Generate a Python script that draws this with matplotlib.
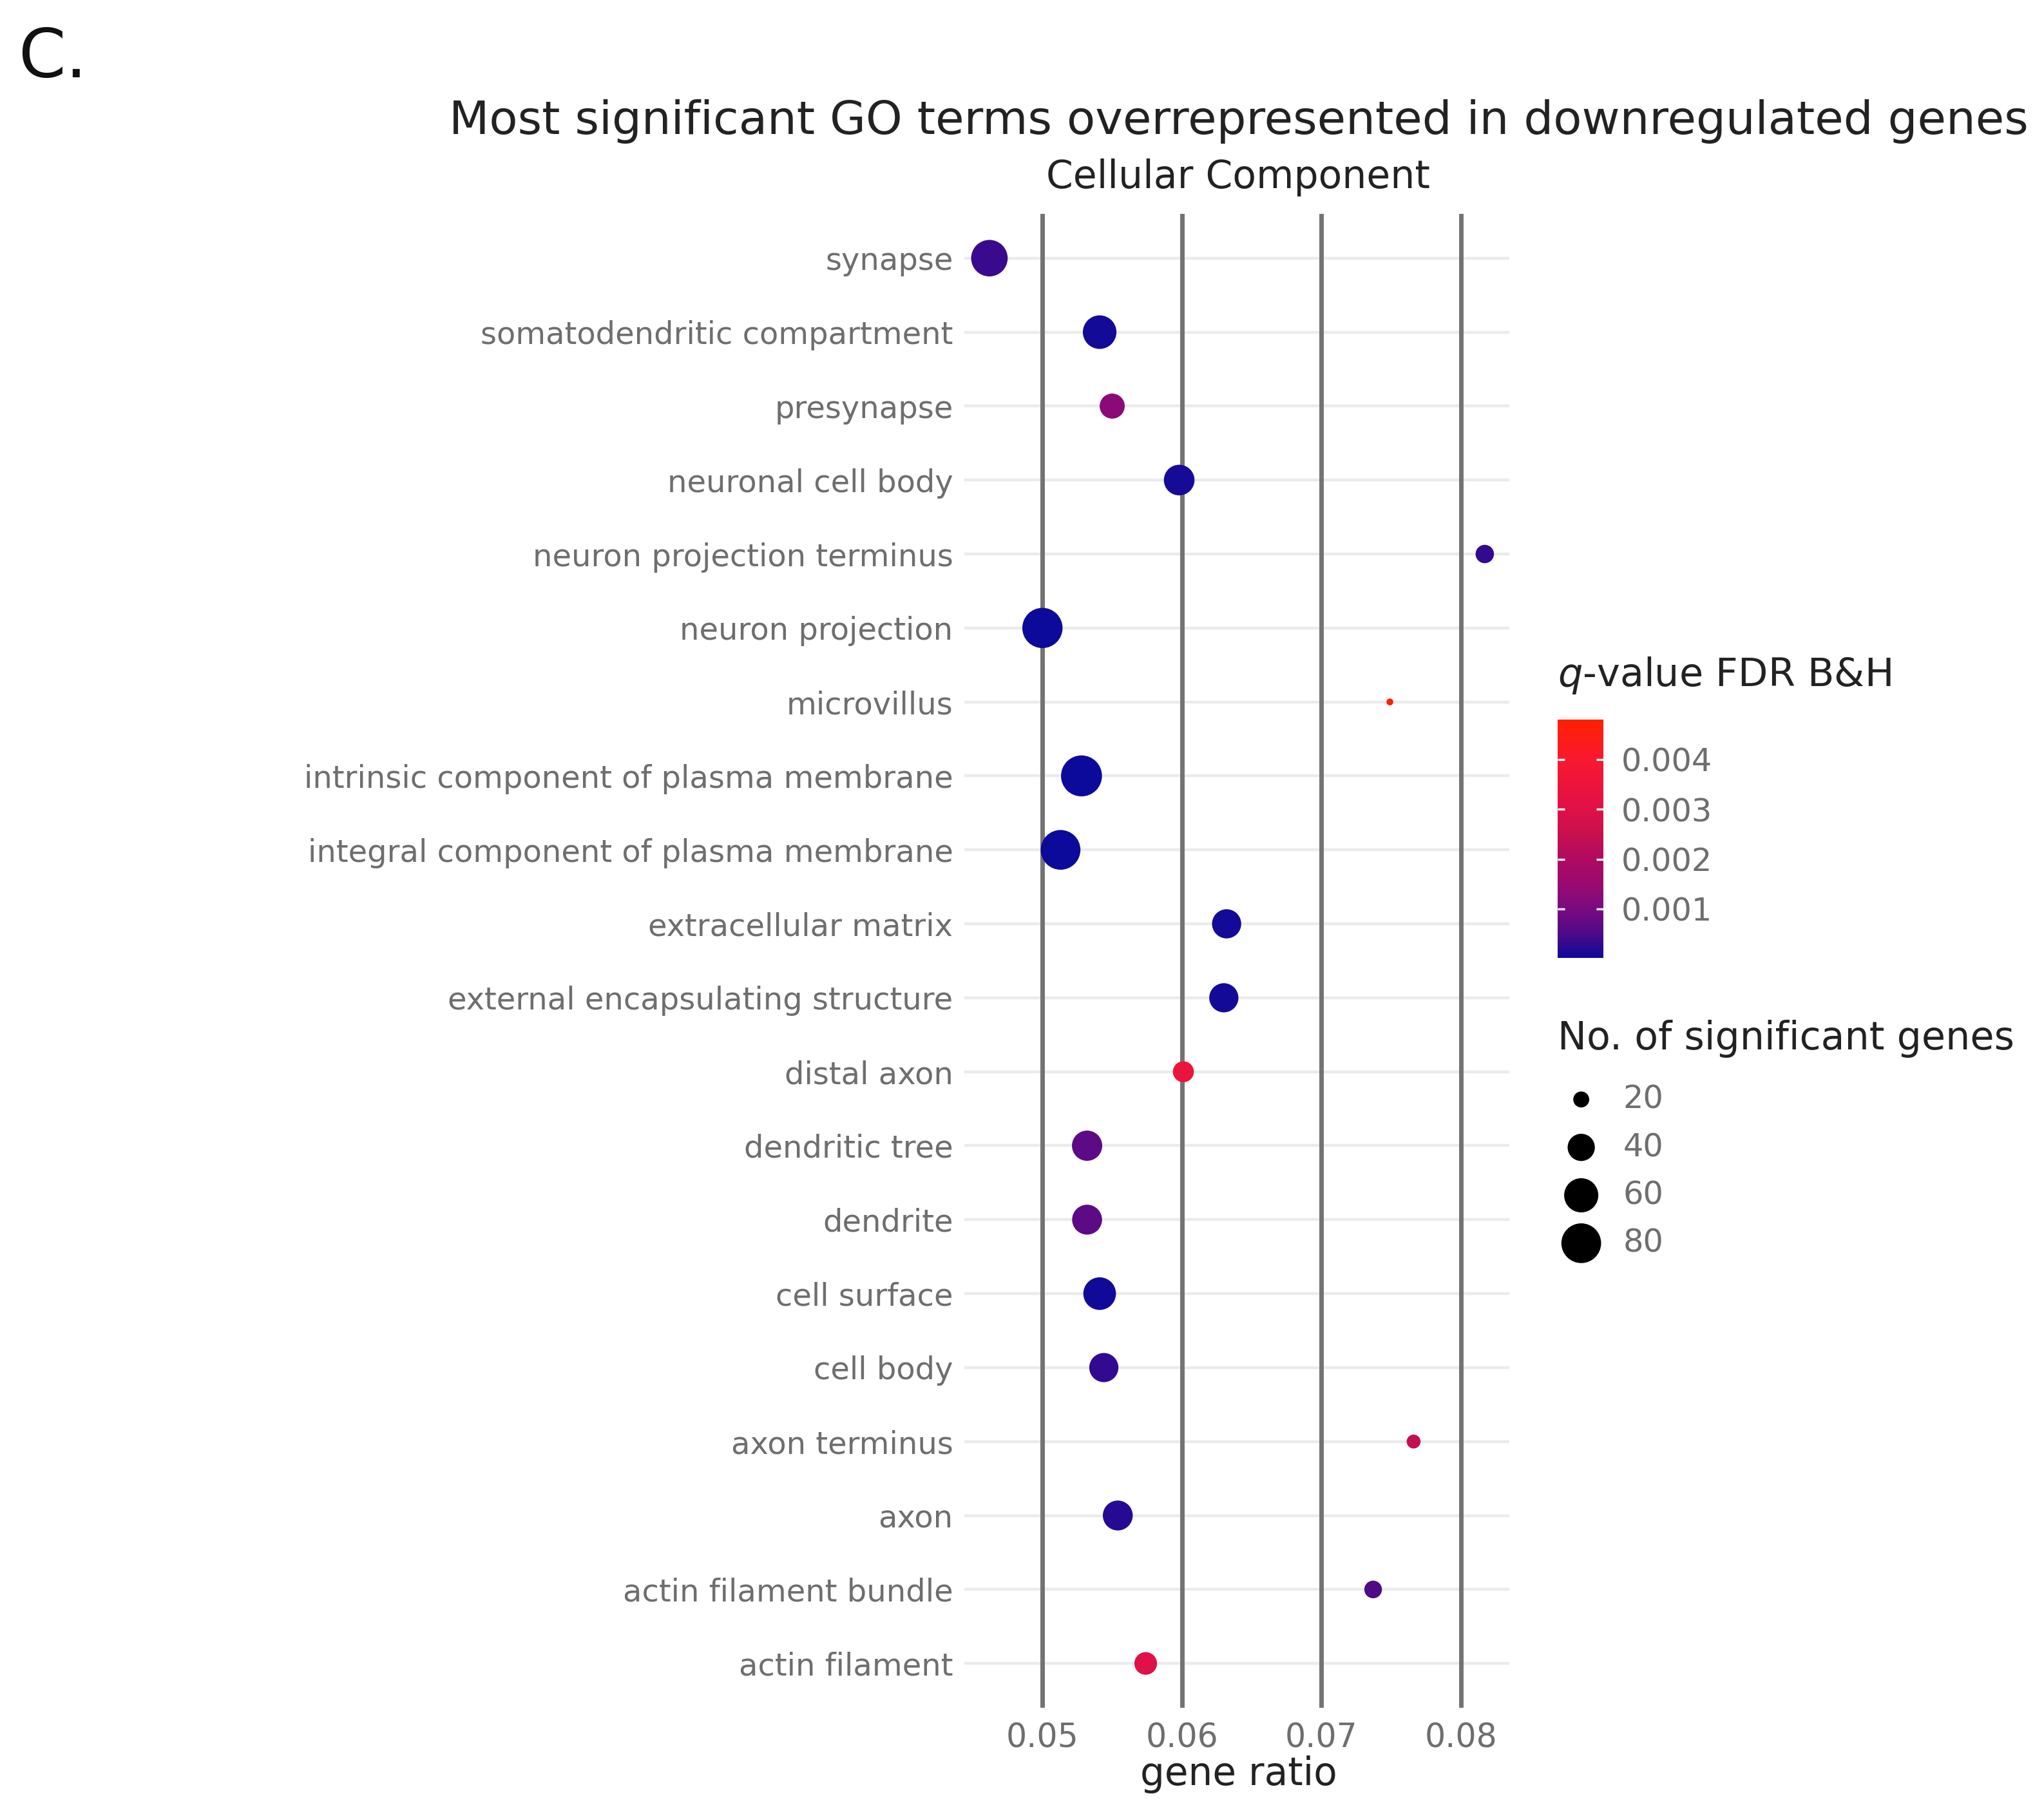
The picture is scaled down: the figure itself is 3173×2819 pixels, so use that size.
import numpy as np
import matplotlib
matplotlib.use("Agg")
import matplotlib.pyplot as plt
from matplotlib.colors import LinearSegmentedColormap, Normalize

plt.rcParams['font.family'] = ['DejaVu Sans']

# ---------------- data (top to bottom) ----------------
terms = ["synapse", "somatodendritic compartment", "presynapse", "neuronal cell body",
         "neuron projection terminus", "neuron projection", "microvillus",
         "intrinsic component of plasma membrane", "integral component of plasma membrane",
         "extracellular matrix", "external encapsulating structure", "distal axon",
         "dendritic tree", "dendrite", "cell surface", "cell body", "axon terminus",
         "axon", "actin filament bundle", "actin filament"]
gene_ratio = [0.0462, 0.0541, 0.0550, 0.0598, 0.0817, 0.0500, 0.0749, 0.0528, 0.0513,
              0.0632, 0.0630, 0.0601, 0.0532, 0.0532, 0.0541, 0.0544, 0.0766, 0.0554,
              0.0737, 0.0574]
n_genes = [68, 58, 35, 49, 23, 82, 15, 85, 80, 45, 45, 27, 48, 47, 55, 45, 18, 47, 22, 30]
q_value = [0.00035, 0.00008, 0.00130, 0.00010, 0.00030, 0.00002, 0.00480, 0.00001, 0.00001,
           0.00008, 0.00008, 0.00350, 0.00065, 0.00065, 0.00005, 0.00030, 0.00240, 0.00020,
           0.00050, 0.00300]
x_ticks = [0.05, 0.06, 0.07, 0.08]
cbar_ticks = [0.001, 0.002, 0.003, 0.004]
size_breaks = [20, 40, 60, 80]

# ---------------- colour scale (dark blue -> purple -> red) ----------------
grad_colors = ["#0c0a9a", "#500a88", "#7a0a80", "#9a0a70", "#b00a60", "#c8104e",
               "#e01048", "#f81830", "#ff2000"]
grad_pos = [0.0, 0.104, 0.208, 0.3125, 0.417, 0.521, 0.625, 0.833, 1.0]
cmap = LinearSegmentedColormap.from_list("qgrad", list(zip(grad_pos, grad_colors)))
norm = Normalize(vmin=min(q_value), vmax=max(q_value))

# ---------------- size scale (ggplot area scale, range 1..6) ----------------
DPI = 200
K_PX = 10.6
vmin_n, vmax_n = min(n_genes), max(n_genes)
def size_pts2(v):
    v = np.asarray(v, float)
    t = np.clip((v - vmin_n) / (vmax_n - vmin_n), 0, 1)
    d_px = K_PX * (1 + 5 * np.sqrt(t))
    d_pt = d_px * 72 / DPI
    return d_pt ** 2

# ---------------- figure ----------------
W, H = 3173, 2819
fig = plt.figure(figsize=(W / DPI, H / DPI), dpi=DPI)
RW, RH = 1568, 1393  # reference layout grid

def fx(x):
    return x / RW
def fy(y):
    return 1 - y / RH

LABEL_C = '#6e6e6e'
TEXT_C = '#222222'

ax = fig.add_axes([fx(740), fy(1310), fx(1158) - fx(740), fy(164) - fy(1310)])
n = len(terms)
ypos = np.arange(n)[::-1]
ax.scatter(gene_ratio, ypos, s=size_pts2(n_genes), c=q_value, cmap=cmap, norm=norm,
           linewidths=0, zorder=3)

xr = max(gene_ratio) - min(gene_ratio)
ax.set_xlim(min(gene_ratio) - 0.05 * xr, max(gene_ratio) + 0.05 * xr)
ax.set_ylim(-0.6, n - 1 + 0.6)
ax.set_yticks(ypos)
ax.set_yticklabels(terms)
ax.set_xticks(x_ticks)
ax.set_xticklabels([f"{t:.2f}" for t in x_ticks])

for s in ax.spines.values():
    s.set_visible(False)
ax.tick_params(axis='both', length=0, labelcolor=LABEL_C)
ax.tick_params(axis='y', pad=6.5, labelsize=17.3)
ax.tick_params(axis='x', pad=8.0, labelsize=18.2)
ax.set_axisbelow(True)
ax.grid(axis='x', color='#737373', linewidth=2.5)
ax.grid(axis='y', color='#ebebeb', linewidth=1.6)
ax.xaxis.set_zorder(0.6)
ax.yaxis.set_zorder(0.4)

# texts
fig.text(fx(14), fy(45), "C.", fontsize=38, color='#111111', ha='left', va='center')
fig.text(fx(950), fy(93), "Most significant GO terms overrepresented in downregulated genes",
         fontsize=26, color=TEXT_C, ha='center', va='center')
fig.text(fx(950), fy(136), "Cellular Component", fontsize=21.6, color=TEXT_C,
         ha='center', va='center')
fig.text(fx(950), fy(1361), "gene ratio", fontsize=21.5, color=TEXT_C,
         ha='center', va='center')

# colour bar legend
fig.text(fx(1195), fy(518), r"$q$-value FDR B&H", fontsize=21.8, color=TEXT_C,
         ha='left', va='center')
cax = fig.add_axes([fx(1195), fy(735), fx(1230) - fx(1195), fy(552) - fy(735)])
sm = matplotlib.cm.ScalarMappable(norm=norm, cmap=cmap)
cb = fig.colorbar(sm, cax=cax, ticks=cbar_ticks)
cb.outline.set_visible(False)
cb.ax.set_yticklabels([f"{t:.3f}" for t in cbar_ticks])
cb.ax.tick_params(axis='y', which='both', left=True, right=True, direction='in',
                  length=4, width=1.2, color='white', labelsize=17.8,
                  labelcolor=LABEL_C, pad=10)
cb.ax.minorticks_off()

# size legend
fig.text(fx(1195), fy(797), "No. of significant genes", fontsize=21.7, color=TEXT_C,
         ha='left', va='center')
lax = fig.add_axes([fx(1195), fy(972), fx(1231) - fx(1195), fy(825) - fy(972)])
ly = np.arange(len(size_breaks))[::-1]
lax.scatter(np.zeros(len(size_breaks)), ly, s=size_pts2(size_breaks), color='black',
            linewidths=0)
lax.set_xlim(-1, 1)
lax.set_ylim(-0.5, len(size_breaks) - 0.5)
for yy, b in zip(ly, size_breaks):
    lax.text(1.78, yy, str(b), fontsize=17.8, color=LABEL_C, ha='left', va='center',
             clip_on=False)
lax.axis('off')

fig.savefig("out.png", dpi=DPI, facecolor='white')
